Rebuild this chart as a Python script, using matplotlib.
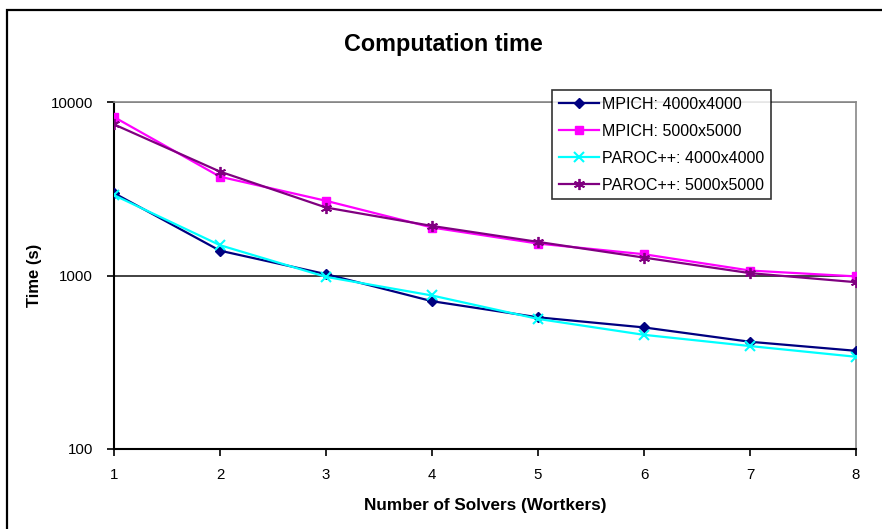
import matplotlib
matplotlib.use("Agg")
import matplotlib.pyplot as plt
from matplotlib.patches import Rectangle
from matplotlib.ticker import FixedLocator, NullLocator, FixedFormatter

plt.rcParams['font.family'] = ['Liberation Sans', 'DejaVu Sans']

workers = [1, 2, 3, 4, 5, 6, 7, 8]
mpich_4000 = [2985, 1390, 1018, 711, 574, 502, 415, 368]
mpich_5000 = [8190, 3710, 2695, 1890, 1528, 1326, 1068, 988]
paroc_4000 = [2905, 1495, 982, 767, 562, 455, 392, 340]
paroc_5000 = [7430, 3970, 2465, 1930, 1562, 1268, 1032, 915]
labels = ["MPICH: 4000x4000", "MPICH: 5000x5000", "PAROC++: 4000x4000", "PAROC++: 5000x5000"]
y_ticks = [100, 1000, 10000]
y_ticklabels = ["100", "1000", "10000"]

W, H = 882, 529
fig = plt.figure(figsize=(W / 100, H / 100), dpi=100)
fig.patches.append(Rectangle((7 / W, -0.1), 1.2, 1 - 10 / H + 0.1, transform=fig.transFigure,
                             fill=False, edgecolor='black', linewidth=1.6))

ax = fig.add_axes([114 / W, 1 - 449 / H, (856 - 114) / W, (449 - 102) / H])
ax.set_yscale('log')
ax.set_xlim(1, 8)
ax.set_ylim(100, 10000)

ax.plot(workers, mpich_4000, color='#000080', marker='D', markersize=5.5, linewidth=1.6, label=labels[0], zorder=4)
ax.plot(workers, mpich_5000, color='#FF00FF', marker='s', markersize=6, linewidth=1.6, label=labels[1], zorder=4)
ax.plot(workers, paroc_4000, color='#00FFFF', marker='x', markersize=7, markeredgewidth=1.5, linewidth=1.6, label=labels[2], zorder=4)
ax.plot(workers, paroc_5000, color='#800080', marker=(6, 2, 0), markersize=8, markeredgewidth=1.3, linewidth=1.6, label=labels[3], zorder=4)

ax.yaxis.set_major_locator(FixedLocator(y_ticks))
ax.yaxis.set_major_formatter(FixedFormatter(y_ticklabels))
ax.yaxis.set_minor_locator(NullLocator())
ax.set_xticks(workers)
ax.set_xticklabels([str(w) for w in workers])
ax.tick_params(axis='both', direction='out', length=5, width=1.2, labelsize=10.8, colors='black')
ax.tick_params(axis='x', pad=9)
ax.tick_params(axis='y', pad=10)

ax.axhline(1000, color='#333333', linewidth=1.3, zorder=1)
ax.axhline(10000, color='#777777', linewidth=1.3, zorder=1)

for s in ['top', 'right']:
    ax.spines[s].set_color('#888888')
    ax.spines[s].set_linewidth(1.2)
for s in ['left', 'bottom']:
    ax.spines[s].set_color('black')
    ax.spines[s].set_linewidth(1.5)

ax.set_xlabel("Number of Solvers (Wortkers)", fontsize=12.3, fontweight='bold')
ax.set_ylabel("Time (s)", fontsize=12, fontweight='bold')
ax.xaxis.set_label_coords(0.5, (449 - 498) / (449 - 102))
ax.yaxis.set_label_coords((42 - 114) / (856 - 114), 0.5)
fig.text(443 / W, 1 - 44 / H, "Computation time", ha='center', va='center', fontsize=16.8, fontweight='bold')

leg = ax.legend(loc='upper left', bbox_to_anchor=((552 - 114) / (856 - 114), 1 + (102 - 90) / (449 - 102)),
                fontsize=11.5, frameon=True, fancybox=False, handlelength=2.5, handletextpad=0.2,
                borderpad=0.42, labelspacing=0.75, borderaxespad=0)
leg.get_frame().set_edgecolor('black')
leg.get_frame().set_linewidth(1.2)

fig.savefig("out.png", dpi=100)
